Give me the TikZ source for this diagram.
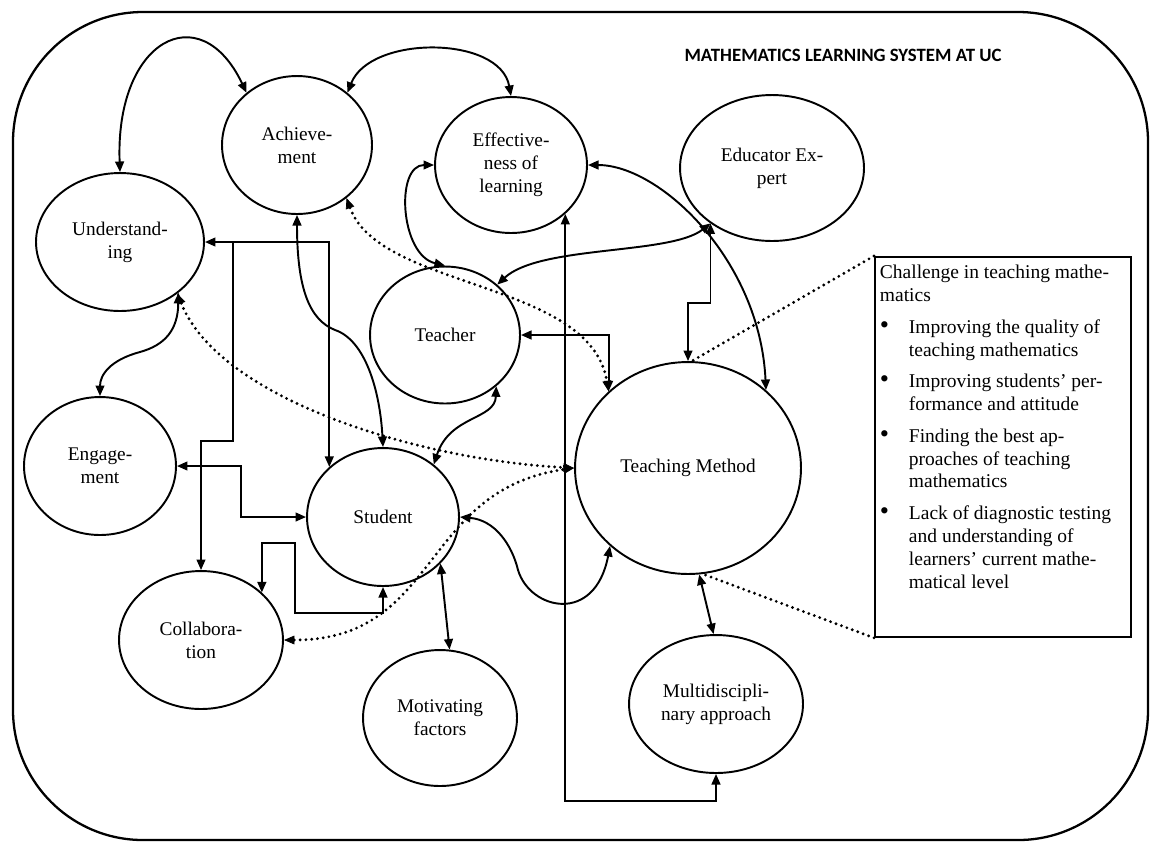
\documentclass[tikz,border=0pt]{standalone}
\usepackage{fontspec}
\setmainfont{Liberation Serif}
\newfontfamily\headfont{Carlito}
\usetikzlibrary{shapes.geometric,arrows.meta}

\newcommand{\chalitem}{\noindent\hangindent=0.58cm\hangafter=1\makebox[0.58cm][l]{\scalebox{1.35}{\textbullet}}}

\begin{document}
\begin{tikzpicture}[x=0.02cm,y=-0.02cm,
	concept/.style={ellipse, draw, line width=1.1pt, inner sep=0pt, align=center, font=\fontsize{11}{13.2}\selectfont},
	link/.style={line width=1.1pt, {Triangle[length=6pt,width=5pt]}-{Triangle[length=6pt,width=5pt]}},
	oneway/.style={line width=1.1pt, -{Triangle[length=6pt,width=5pt]}},
	hint/.style={line width=1.8pt, line cap=round, dash pattern=on 0pt off 3.3pt},
	hintlink/.style={hint, {Triangle[length=6pt,width=5pt,line width=0.4pt]}-{Triangle[length=6pt,width=5pt,line width=0.4pt]}}]
	\useasboundingbox (0,0) rectangle (1151,843);
	\draw[line width=1.3pt, rounded corners=2.6cm] (13,12) rectangle (1148,840);
	\node[font=\headfont\bfseries\fontsize{10.7}{13}\selectfont] (title) at (843,55) {MATHEMATICS LEARNING SYSTEM AT UC};

	% outcomes
	\node[concept, minimum width=3.0cm, minimum height=2.76cm] (ach) at (297,145) {Achieve-\\ment};
	\node[concept, minimum width=3.04cm, minimum height=2.72cm] (eff) at (511,165) {Effective-\\ness of\\learning};
	\node[concept, minimum width=3.36cm, minimum height=2.76cm] (und) at (120,242) {Understand-\\ing};
	\node[concept, minimum width=3.04cm, minimum height=2.76cm] (eng) at (100,466) {Engage-\\ment};
	\node[concept, minimum width=3.28cm, minimum height=2.76cm] (col) at (201,640) {Collabora-\\tion};

	% actors
	\node[concept, minimum width=3.68cm, minimum height=2.92cm] (edu) at (772,168) {Educator Ex-\\pert};
	\node[concept, minimum width=3.0cm, minimum height=2.74cm] (tea) at (445,335) {Teacher};
	\node[concept, minimum width=3.04cm, minimum height=2.76cm] (stu) at (383,517) {Student};
	\node[concept, minimum width=4.52cm, minimum height=4.24cm] (tm) at (688,468) {Teaching Method};
	\node[concept, minimum width=3.08cm, minimum height=2.72cm] (mot) at (440,718) {Motivating\\factors};
	\node[concept, minimum width=3.48cm, minimum height=2.76cm] (mul) at (716,704) {Multidiscipli-\\nary approach};

	\node[draw, line width=1.1pt, inner xsep=0.1cm, inner ysep=0.06cm, anchor=north west] (chal) at (874,256) {\parbox[c][7.48cm][t]{4.92cm}{\fontsize{11.1}{13}\selectfont
		\vspace*{3pt}\noindent Challenge in teaching mathe-\\matics\par
		\parskip=5pt
		\chalitem Improving the quality of\\teaching mathematics\par
		\chalitem Improving students' per-\\formance and attitude\par
		\chalitem Finding the best ap-\\proaches of teaching\\mathematics\par
		\chalitem Lack of diagnostic testing\\and understanding of\\learners’ current mathe-\\matical level\par}};

	\draw[link] (und.north) .. controls (115,40) and (200,-5) .. (ach.134);
	\draw[link] (ach.46) .. controls (370,35) and (500,35) .. (eff.north);
	\draw[link] (eff.west) .. controls (395,165) and (400,255) .. (tea.north);
	\draw[link] (ach.south) .. controls (297,290) and (310,320) .. (335,330) .. controls (365,340) and (380,390) .. (stu.north);
	\draw[link] (und.east) -| (stu.137);
	\coordinate (ubranch) at (233,242);
	\draw[oneway] (ubranch) -- ++(0,199) -| (col.north);
	\draw[link] (eng.east) -- ++(64,0) |- (stu.west);
	\draw[link] (und.-41) .. controls (178,330) and (165,345) .. (140,352) .. controls (110,360) and (100,375) .. (eng.north);
	\draw[link] (stu.south) |- (295,613) -- (295,543) -| (col.38);
	\draw[link] (tea.-45) .. controls (495,420) and (450,415) .. (stu.46);
	\draw[link] (tea.east) -| (tm.136);
	\draw[link] (stu.east) .. controls (495,520) and (512,545) .. (518,570) .. controls (530,610) and (595,625) .. (tm.-135);
	\draw[link] (stu.-39) -- (mot.82);
	\draw[link] (tm.-84) -- (mul.92);
	\draw[link] (edu.222) -- ++(0,80) -| (tm.north);
	\draw[link] (edu.222) .. controls (670,255) and (540,245) .. (tea.44);
	\draw[link] (eff.east) .. controls (660,165) and (760,260) .. (tm.45);
	\draw[link] (eff.-42) -- ++(0,587) -| (mul.south);

	% dotted influences
	\draw[hintlink] (ach.-47) .. controls (380,290) and (590,280) .. (tm.136);
	\draw[hintlink] (und.-42) .. controls (220,400) and (420,460) .. (tm.west);
	\draw[hintlink] (col.east) .. controls (440,640) and (420,490) .. (tm.west);
	\draw[hint] (chal.north west) -- (tm.88);
	\draw[hint] (chal.south west) -- (tm.-82);
\end{tikzpicture}
\end{document}
